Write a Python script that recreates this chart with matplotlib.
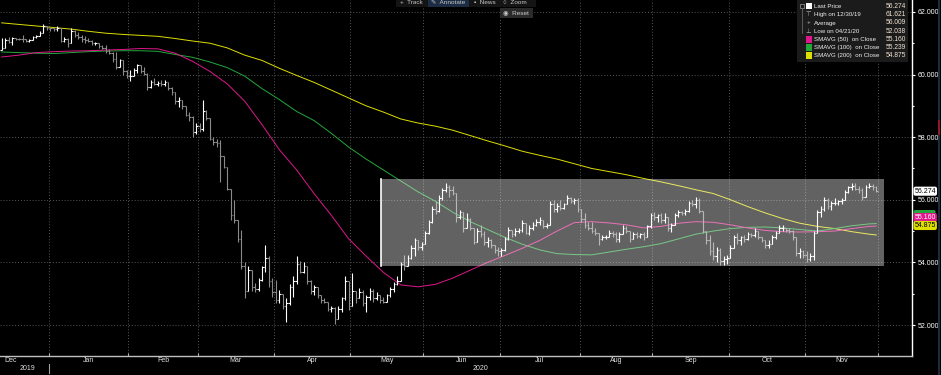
import numpy as np
import pandas as pd
import matplotlib
matplotlib.use("Agg")
import matplotlib.pyplot as plt
from matplotlib.collections import LineCollection
from matplotlib.patches import Rectangle, FancyBboxPatch
from matplotlib.lines import Line2D
from matplotlib.transforms import blended_transform_factory

plt.rcParams['font.family'] = ['Liberation Sans', 'DejaVu Sans']

# weekdays shown on the chart, Dec 12 2019 .. Nov 30 2020
dates = pd.bdate_range("2019-12-12", "2020-11-30")

highs = [
    61.17, 61.17, 61.20, 61.21, 61.18, 61.16, 61.25, 61.12, 61.12, 61.22, 61.25, 61.38, 61.62, 61.55,
    61.52, 61.50, 61.55, 61.45, 61.20, 61.16, 61.47, 61.42, 61.37, 61.25, 61.22, 61.16, 61.11, 61.05, 61.02, 60.95, 60.95, 60.80, 60.72, 60.71, 60.50, 60.30, 60.15,
    60.15, 60.20, 60.35, 60.30, 60.25, 60.04, 59.83, 59.88, 59.80, 59.82, 59.83, 59.72, 59.61, 59.42, 59.27, 59.20, 58.97, 58.80, 58.66, 58.44,
    58.44, 59.20, 58.88, 58.62, 58.00, 57.95, 57.90, 57.40, 57.05, 56.35, 56.00, 55.30, 55.04, 54.00, 53.87, 53.75, 53.33, 53.50, 53.90, 54.55, 54.20, 53.50,
    53.45, 53.12, 53.00, 52.85, 53.30, 53.55, 54.20, 54.03, 54.00, 53.81, 53.45, 53.27, 53.20, 52.95, 52.85, 52.75, 52.60, 52.58, 52.60, 52.90, 53.55, 53.40,
    53.65, 53.10, 53.17, 53.12, 52.95, 53.17, 53.15, 53.06, 52.96, 52.90, 53.00, 53.20, 53.38, 53.55, 54.00, 54.24, 54.24, 54.55, 54.77, 54.72, 54.65,
    55.00, 55.35, 55.80, 55.95, 56.15, 56.37, 56.53, 56.47, 56.45, 56.20, 55.67, 55.62, 55.57, 55.41, 55.10, 55.09, 55.20, 55.00, 54.82, 54.75, 54.55, 54.50,
    54.45, 54.82, 55.14, 55.05, 55.09, 55.10, 55.35, 55.25, 55.19, 55.30, 55.40, 55.46, 55.35, 55.25, 55.95, 56.00, 55.90, 56.00, 55.90, 56.16, 56.10, 56.05, 56.05,
    55.62, 55.57, 55.30, 55.30, 55.10, 54.93, 54.88, 54.88, 55.03, 55.00, 54.98, 54.98, 55.19, 55.15, 54.98, 54.98, 54.98, 54.95, 54.98, 55.20, 55.57,
    55.62, 55.55, 55.57, 55.57, 55.41, 55.25, 55.57, 55.68, 55.65, 55.70, 55.95, 56.00, 56.10, 56.05, 55.60, 55.00, 54.88, 54.66, 54.50, 54.45, 54.19, 54.25,
    54.55, 54.88, 54.93, 54.85, 54.88, 54.98, 54.95, 55.09, 55.00, 54.82, 54.72, 54.70, 54.88, 55.00, 55.19, 55.19, 55.09, 55.09, 55.03, 54.75, 54.45, 54.40,
    54.35, 54.30, 55.00, 55.68, 55.80, 56.10, 56.05, 55.95, 56.05, 56.00, 56.05, 56.31, 56.45, 56.53, 56.53, 56.45, 56.37, 56.47, 56.53, 56.50, 56.45,
]
lows = [
    60.78, 60.95, 61.00, 60.95, 61.10, 61.10, 61.05, 61.05, 61.05, 61.15, 61.18, 61.25, 61.45, 61.42,
    61.40, 61.40, 61.40, 61.05, 61.05, 60.88, 61.00, 61.20, 61.15, 61.05, 61.00, 61.05, 60.95, 60.95, 60.85, 60.81, 60.68, 60.65, 60.40, 60.17, 60.25, 60.00, 59.90,
    59.80, 59.95, 60.05, 60.05, 59.98, 59.52, 59.56, 59.67, 59.62, 59.62, 59.62, 59.52, 59.35, 59.05, 58.95, 58.90, 58.66, 58.50, 58.02, 58.10,
    58.15, 58.20, 58.55, 57.90, 57.75, 57.70, 56.57, 57.00, 56.30, 55.35, 55.25, 54.66, 53.80, 52.85, 53.10, 53.10, 53.05, 53.10, 53.40, 53.70, 53.20, 52.90,
    52.70, 52.69, 52.50, 52.10, 52.65, 52.90, 53.30, 53.65, 53.65, 53.30, 53.00, 52.95, 52.85, 52.70, 52.69, 52.45, 52.42, 52.04, 52.26, 52.40, 52.80, 52.47,
    52.85, 52.69, 52.85, 52.60, 52.42, 52.80, 52.74, 52.80, 52.69, 52.69, 52.74, 52.90, 53.05, 53.28, 53.60, 53.76, 53.92, 54.10, 54.19, 54.40, 54.40,
    54.60, 54.90, 55.25, 55.55, 55.60, 56.00, 56.25, 56.10, 56.15, 55.30, 55.40, 54.98, 55.10, 55.03, 54.60, 54.70, 54.80, 54.55, 54.50, 54.45, 54.29, 54.20,
    54.19, 54.35, 54.70, 54.82, 54.85, 54.95, 54.98, 54.90, 54.88, 55.05, 55.15, 55.20, 55.09, 55.09, 55.20, 55.62, 55.62, 55.68, 55.70, 55.85, 55.89, 55.85, 55.62,
    55.30, 55.10, 55.03, 54.95, 54.88, 54.55, 54.70, 54.75, 54.80, 54.82, 54.66, 54.66, 54.90, 54.93, 54.66, 54.75, 54.77, 54.77, 54.72, 54.80, 55.10,
    55.35, 55.30, 55.25, 55.25, 55.00, 54.98, 55.20, 55.45, 55.50, 55.52, 55.60, 55.79, 55.73, 55.57, 54.93, 54.60, 54.24, 54.08, 54.00, 53.92, 53.92, 53.95,
    54.15, 54.45, 54.60, 54.55, 54.66, 54.70, 54.82, 54.82, 54.75, 54.66, 54.45, 54.45, 54.60, 54.75, 54.93, 55.00, 54.98, 54.95, 54.72, 54.19, 54.15, 54.13,
    54.00, 54.05, 54.08, 55.10, 55.45, 55.65, 55.70, 55.68, 55.84, 55.84, 55.85, 56.00, 56.20, 56.31, 56.30, 56.21, 56.00, 56.10, 56.37, 56.31, 56.25,
]
closes = [
    60.85, 61.10, 61.05, 61.18, 61.15, 61.14, 61.12, 61.08, 61.10, 61.20, 61.22, 61.33, 61.55, 61.50,
    61.48, 61.45, 61.50, 61.08, 61.15, 61.00, 61.40, 61.25, 61.20, 61.12, 61.10, 61.08, 61.00, 61.02, 60.90, 60.85, 60.75, 60.70, 60.50, 60.25, 60.45, 60.10, 59.95,
    59.95, 60.15, 60.30, 60.10, 60.02, 59.60, 59.75, 59.70, 59.72, 59.70, 59.75, 59.58, 59.45, 59.15, 59.20, 58.98, 58.72, 58.65, 58.15, 58.35,
    58.25, 58.85, 58.62, 57.95, 57.85, 57.80, 57.40, 57.05, 56.35, 55.50, 55.35, 54.75, 53.90, 53.10, 53.75, 53.20, 53.15, 53.45, 53.85, 54.15, 53.40, 53.05,
    52.80, 53.00, 52.60, 52.70, 53.20, 53.40, 53.95, 53.70, 53.90, 53.40, 53.10, 53.20, 52.95, 52.80, 52.72, 52.50, 52.55, 52.20, 52.50, 52.85, 53.40, 52.60,
    53.10, 52.85, 53.05, 52.70, 52.90, 53.10, 52.85, 52.95, 52.80, 52.75, 52.95, 53.15, 53.30, 53.40, 53.95, 53.90, 54.15, 54.45, 54.70, 54.50, 54.60,
    54.95, 55.30, 55.70, 55.65, 56.05, 56.30, 56.40, 56.30, 56.20, 55.45, 55.60, 55.10, 55.40, 55.10, 54.65, 55.00, 54.90, 54.65, 54.70, 54.55, 54.40, 54.35,
    54.40, 54.75, 55.05, 54.90, 55.00, 55.05, 55.25, 54.95, 55.10, 55.20, 55.30, 55.35, 55.15, 55.20, 55.85, 55.70, 55.80, 55.75, 55.85, 56.05, 55.95, 56.00, 55.70,
    55.40, 55.20, 55.10, 55.00, 54.95, 54.75, 54.80, 54.82, 54.95, 54.90, 54.75, 54.90, 55.10, 55.00, 54.75, 54.90, 54.85, 54.90, 54.80, 55.15, 55.50,
    55.45, 55.50, 55.35, 55.45, 55.10, 55.20, 55.50, 55.60, 55.58, 55.65, 55.90, 55.85, 56.00, 55.65, 55.00, 54.70, 54.35, 54.20, 54.40, 54.05, 54.10, 54.15,
    54.45, 54.80, 54.70, 54.80, 54.75, 54.90, 54.88, 55.00, 54.80, 54.70, 54.55, 54.60, 54.80, 54.95, 55.10, 55.10, 55.05, 55.00, 54.80, 54.30, 54.35, 54.25,
    54.10, 54.20, 54.95, 55.60, 55.70, 56.00, 55.80, 55.90, 55.90, 55.95, 56.00, 56.25, 56.40, 56.45, 56.35, 56.30, 56.10, 56.40, 56.45, 56.40, 56.274,
]
first_open = 60.79
# bars open where the previous one closed
opens = [first_open] + closes[:-1]

# moving averages every 5th bar (plus the last bar)
ma_pos = list(range(0, 251, 5)) + [252]
sma50 = [60.56, 60.62, 60.70, 60.73, 60.75, 60.76, 60.78, 60.80, 60.83, 60.82,
         60.68, 60.42, 60.10, 59.70, 59.15, 58.40, 57.60, 56.95, 56.20, 55.50,
         54.75, 54.20, 53.68, 53.28, 53.22, 53.30, 53.50, 53.75, 54.00, 54.22,
         54.45, 54.70, 55.00, 55.27, 55.30, 55.26, 55.20, 55.10, 55.15, 55.25,
         55.30, 55.28, 55.20, 55.10, 55.02, 54.98, 54.97, 54.98, 55.00, 55.08,
         55.15, 55.16]
sma100 = [60.72, 60.70, 60.68, 60.67, 60.70, 60.73, 60.75, 60.76, 60.76, 60.74,
          60.64, 60.55, 60.40, 60.22, 59.95, 59.55, 59.20, 58.82, 58.53, 58.12,
          57.68, 57.30, 56.95, 56.60, 56.25, 55.95, 55.60, 55.30, 55.05, 54.80,
          54.58, 54.40, 54.28, 54.25, 54.24, 54.33, 54.42, 54.50, 54.60, 54.75,
          54.90, 55.00, 55.08, 55.12, 55.13, 55.10, 55.05, 55.00, 55.08, 55.17,
          55.23, 55.239]
sma200 = [61.65, 61.60, 61.55, 61.50, 61.45, 61.38, 61.32, 61.28, 61.25, 61.22,
          61.15, 61.07, 61.00, 60.85, 60.62, 60.45, 60.20, 59.97, 59.75, 59.50,
          59.25, 59.00, 58.80, 58.58, 58.45, 58.35, 58.22, 58.05, 57.88, 57.72,
          57.55, 57.42, 57.30, 57.15, 57.00, 56.90, 56.80, 56.68, 56.57, 56.45,
          56.32, 56.20, 56.00, 55.78, 55.58, 55.40, 55.25, 55.15, 55.08, 54.98,
          54.90, 54.875]

legend_labels = ["Last Price", "High on 12/30/19", "Average", "Low on 04/21/20",
                 "SMAVG (50)  on Close", "SMAVG (100)  on Close", "SMAVG (200)  on Close"]
legend_values = ["56.274", "61.621", "56.009", "52.038", "55.160", "55.239", "54.875"]
ytick_vals = [52, 54, 56, 58, 60, 62]

C_MAG, C_GRN, C_YEL = '#e0178c', '#22a83a', '#dede00'

W, H = 941, 375
def fx(px):
    return px / W
def fy(py):
    return 1 - py / H

fig = plt.figure(figsize=(W / 100, H / 100), dpi=100, facecolor='black')
ax = fig.add_axes([0, 19 / H, 912 / W, 356 / H], facecolor='black')

# ohlc bars
segs, cols = [], []
for i, (o, h, l, c) in enumerate(zip(opens, highs, lows, closes)):
    col = '#ffffff' if c >= o else '#8a8a8a'
    segs.append([(i, min(l, o, c)), (i, max(h, o, c))])
    segs.append([(i - 0.45, o), (i, o)])
    segs.append([(i, c), (i + 0.45, c)])
    cols += [col] * 3
ax.add_collection(LineCollection(segs, colors=cols, linewidths=0.8, zorder=3))

ax.plot(ma_pos, sma200, color=C_YEL, lw=0.7, zorder=2)
ax.plot(ma_pos, sma100, color=C_GRN, lw=0.7, zorder=2)
ax.plot(ma_pos, sma50, color=C_MAG, lw=0.7, zorder=2)

# range box annotation
ax.add_patch(Rectangle((109.3, 53.89), 145.0, 2.78, facecolor='white', alpha=0.39,
                       edgecolor='none', zorder=4))
ax.plot([109.3, 109.3], [53.89, 56.67], color='white', lw=1.2, zorder=5)

ax.set_xlim(-0.49, 262.3)
ax.set_ylim(51.01, 62.38)

# month boundaries from the weekday calendar
alldays = pd.bdate_range("2019-12-02", "2020-12-31")
pos = pd.Series(np.arange(len(alldays)) - alldays.get_loc(dates[0]), index=alldays)
grp = pos.groupby(alldays.to_period('M'))
m_start = grp.min() - 0.5
m_end = grp.max() + 0.5
bounds = [b for b in m_start.values if ax.get_xlim()[0] < b < ax.get_xlim()[1]]

ax.set_xticks(bounds)
ax.set_xticklabels([])
ax.set_yticks(ytick_vals)
ax.set_yticklabels(['%.3f' % v for v in ytick_vals])
ax.set_yticks([53, 55, 57, 59, 61], minor=True)
ax.yaxis.tick_right()
ax.tick_params(axis='x', direction='in', length=2, width=0.8, color='#b0b0b0')
ax.tick_params(axis='y', which='major', direction='out', length=2.5, width=0.8,
               colors='white', labelsize=5, pad=1.5)
ax.tick_params(axis='y', which='minor', direction='out', length=1.5, width=0.8, color='white')
ax.grid(True, which='major', color='#555555', linestyle=(0, (1, 2)), linewidth=0.7)
ax.set_axisbelow(True)
for s in ['top', 'left']:
    ax.spines[s].set_visible(False)
ax.spines['right'].set_color('white')
ax.spines['right'].set_linewidth(1.0)
ax.spines['bottom'].set_color('#c0c0c0')
ax.spines['bottom'].set_linewidth(1.0)

trans = blended_transform_factory(ax.transData, ax.transAxes)
x0, x1 = ax.get_xlim()
for per, a, b in zip(m_start.index, m_start.values, m_end.values):
    mid = (a + b) / 2
    if x0 - 5 < mid < x1 - 5:
        ax.text(mid, -0.014, per.strftime('%b'), transform=trans, ha='center', va='center',
                fontsize=5, color='#e0e0e0', clip_on=False)
year_split = m_start.values[1]
ax.text((x0 + year_split) / 2 + 1, -0.036, '2019', transform=trans, ha='center', va='center',
        fontsize=5, color='#e0e0e0', clip_on=False)
ax.text((year_split + x1) / 2, -0.036, '2020', transform=trans, ha='center', va='center',
        fontsize=5, color='#e0e0e0', clip_on=False)
ax.plot([year_split, year_split], [-0.022, -0.048], transform=trans, color='#a0a0a0',
        lw=0.8, clip_on=False)

# legend panel
fig.add_artist(Rectangle((fx(797), fy(62)), fx(908) - fx(797), 62 / H,
                         transform=fig.transFigure, facecolor='#1b1b1b', edgecolor='none', zorder=10))
fig.add_artist(Rectangle((fx(800), fy(8)), 4 / W, 4 / H, transform=fig.transFigure,
                         facecolor='none', edgecolor='#888888', lw=0.6, zorder=11))
fig.add_artist(Line2D([fx(802), fx(802)], [fy(8), fy(33)], transform=fig.transFigure,
                      color='#666666', lw=0.6, zorder=11))
rows = [6, 14.5, 23, 31.5, 39.5, 47.5, 55.5]
marks = ['#ffffff', None, None, None, C_MAG, C_GRN, C_YEL]
glyphs = [None, '⊤', '+', '⊥', None, None, None]
for ry, lab, val, mc, g in zip(rows, legend_labels, legend_values, marks, glyphs):
    if mc:
        fig.add_artist(Rectangle((fx(805.5), fy(ry + 3)), 6 / W, 6 / H, transform=fig.transFigure,
                                 facecolor=mc, edgecolor='none', zorder=11))
    else:
        fig.text(fx(808.5), fy(ry), g, fontsize=4.6, color='#bbbbbb', ha='center', va='center', zorder=11)
    fig.text(fx(813.5), fy(ry), lab, fontsize=4.4, color='#f0f0f0', ha='left', va='center', zorder=11)
    fig.text(fx(906), fy(ry), val, fontsize=4.8, color='#f2e4d4', ha='right', va='center', zorder=11)

# toolbar at the top
fig.add_artist(Rectangle((fx(396), fy(7)), 140 / W, 7 / H, transform=fig.transFigure,
                         facecolor='#141414', edgecolor='none', zorder=10))
fig.add_artist(Rectangle((fx(428), fy(7)), 41 / W, 7 / H, transform=fig.transFigure,
                         facecolor='#1b2c44', edgecolor='none', zorder=10))
fig.add_artist(Rectangle((fx(500), fy(18)), 33 / W, 10 / H, transform=fig.transFigure,
                         facecolor='#2a2a2a', edgecolor='none', zorder=10))
for tx, t in [(400, '+  Track'), (431, '✎  Annotate'), (474, '▪  News'), (503, '○  Zoom')]:
    fig.text(fx(tx), fy(2.5), t, fontsize=4.6, color='#c8c8c8', ha='left', va='center', zorder=11)
fig.text(fx(503), fy(13), '◉  Reset', fontsize=4.6, color='#d0d0d0', ha='left', va='center', zorder=11)

# price tags on the axis
tag_trans = blended_transform_factory(fig.transFigure, ax.transData)
fig.text(fx(914.5), closes[-1], '%.3f' % closes[-1], transform=tag_trans, fontsize=5, color='black',
         ha='left', va='center', zorder=12,
         bbox=dict(boxstyle='round,pad=0.15,rounding_size=0.3', fc='white', ec='none'))
# green (100) tag sits behind the magenta one, only its top edge shows
fig.add_artist(FancyBboxPatch((fx(913.5), fy(219)), 22 / W, 9 / H, transform=fig.transFigure,
                              boxstyle='round,pad=0,rounding_size=0.003', facecolor=C_GRN,
                              edgecolor='none', zorder=12))
for py, val, fc, tc in [(217.5, legend_values[4], C_MAG, 'white'),
                        (225.5, legend_values[6], C_YEL, 'black')]:
    fig.text(fx(914.5), fy(py), val, fontsize=5, color=tc, ha='left', va='center', zorder=12,
             bbox=dict(boxstyle='round,pad=0.15,rounding_size=0.3', fc=fc, ec='none'))

# scrollbar strip at the far right
fig.add_artist(Rectangle((fx(937.5), 0), 2.5 / W, 1, transform=fig.transFigure,
                         facecolor='#1c2a3c', edgecolor='none', zorder=13))
fig.add_artist(Rectangle((fx(937.5), fy(135)), 2.5 / W, 15 / H, transform=fig.transFigure,
                         facecolor='#8c1a2a', edgecolor='none', zorder=14))

fig.savefig('out.png', dpi=100, facecolor='black')
